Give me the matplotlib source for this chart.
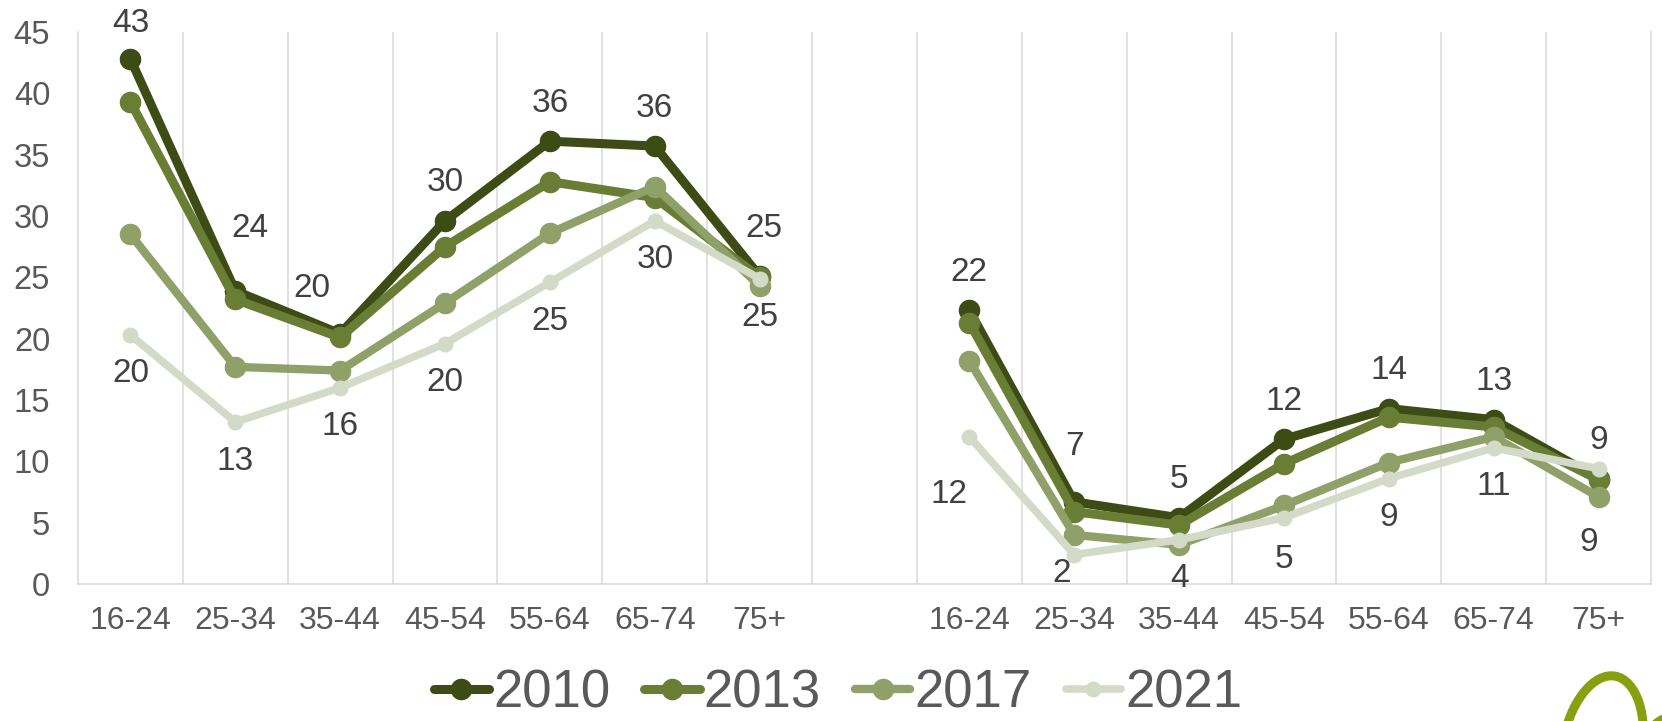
import numpy as np
import matplotlib.pyplot as plt
from matplotlib.patches import Arc

plt.rcParams['font.family'] = ['Liberation Sans', 'DejaVu Sans']

ages = ['16-24', '25-34', '35-44', '45-54', '55-64', '65-74', '75+']
years = ['2010', '2013', '2017', '2021']

# first group of age bands
left_2010 = [42.8, 23.9, 20.4, 29.6, 36.1, 35.7, 25.1]
left_2013 = [39.3, 23.2, 20.1, 27.5, 32.8, 31.5, 25.0]
left_2017 = [28.5, 17.7, 17.4, 22.9, 28.6, 32.4, 24.3]
left_2021 = [20.3, 13.2, 16.0, 19.6, 24.6, 29.6, 24.9]

# second group of age bands
right_2010 = [22.3, 6.7, 5.4, 11.8, 14.3, 13.4, 8.6]
right_2013 = [21.3, 5.9, 4.8, 9.8, 13.6, 12.8, 8.5]
right_2017 = [18.2, 4.0, 3.2, 6.4, 9.9, 12.0, 7.1]
right_2021 = [12.0, 2.4, 3.6, 5.4, 8.6, 11.1, 9.4]

left = {'2010': left_2010, '2013': left_2013, '2017': left_2017, '2021': left_2021}
right = {'2010': right_2010, '2013': right_2013, '2017': right_2017, '2021': right_2021}

styles = {
    '2010': dict(color='#3d4b14', lw=6.5, ms=14.5),
    '2013': dict(color='#6a7d35', lw=6.5, ms=14.5),
    '2017': dict(color='#8fa068', lw=6.0, ms=14.5),
    '2021': dict(color='#d4dac8', lw=5.5, ms=10.5),
}

PX = 0.72  # points per pixel at 100 dpi
GRID = '#d9d9d9'

fig = plt.figure(figsize=(16.62, 7.21), dpi=100)
ax = fig.add_axes([78 / 1662, 1 - 584 / 721, (1651 - 78) / 1662, (584 - 32) / 721])

x_left = np.arange(7)
x_right = np.arange(8, 15)

for year in years:
    st = styles[year]
    kw = dict(color=st['color'], lw=st['lw'], marker='o', ms=st['ms'],
              solid_capstyle='round', solid_joinstyle='round', clip_on=False)
    ax.plot(x_left, left[year], label=year, **kw)
    ax.plot(x_right, right[year], **kw)

# value labels: 2010 above its points, 2021 below
# offsets in pixels (dx, dy), dy pointing down the screen
label_shift = {
    ('2010', 0): (0, -35), ('2010', 1): (15, -62), ('2010', 2): (-28, -45),
    ('2010', 6): (4, -48), ('2010', 9): (0, -55),
    ('2021', 8): (-20, 58), ('2021', 9): (-13, 19), ('2021', 11): (0, 42),
    ('2021', 14): (-10, 74),
}
xs = list(x_left) + list(x_right)
for year, default in (('2010', (0, -38)), ('2021', (0, 39))):
    vals = left[year] + right[year]
    for x, v in zip(xs, vals):
        dx, dy = label_shift.get((year, x), default)
        ax.annotate(str(int(np.floor(v + 0.5))), (x, v), xytext=(dx * PX, -dy * PX),
                    textcoords='offset points', ha='center', va='center',
                    fontsize=24, color='#404040', annotation_clip=False)

ax.set_xlim(-0.5, 14.5)
ax.set_ylim(0, 45)
ax.set_yticks(np.arange(0, 46, 5))
ax.set_xticks(np.arange(15))
ax.set_xticklabels(ages + [''] + ages)
ax.set_xticks(np.arange(0.5, 14, 1), minor=True)
ax.grid(which='minor', axis='x', color=GRID, lw=1.1)
ax.tick_params(which='both', length=0)
ax.tick_params(axis='x', pad=16, labelsize=23, labelcolor='#595959')
ax.tick_params(axis='y', pad=20, labelsize=23.5, labelcolor='#595959')
ax.spines['top'].set_visible(False)
for s in ('left', 'right', 'bottom'):
    ax.spines[s].set_color(GRID)
    ax.spines[s].set_linewidth(1.1)
ax.set_axisbelow(True)

leg = fig.legend(loc='center', bbox_to_anchor=(838 / 1662, 1 - 693 / 721), ncol=4,
                 frameon=False, fontsize=38, handlelength=1.05, handletextpad=0.08,
                 columnspacing=0.64, borderpad=0, labelcolor='#595959')

# corner emblem
em = fig.add_axes([1540 / 1662, 0, 122 / 1662, 70 / 721])
em.set_xlim(1540, 1662)
em.set_ylim(721, 651)
em.axis('off')
em.add_patch(Arc((1602, 750), 80, 150, angle=10, theta1=180, theta2=360,
                 color='#86a10f', lw=6.5))
em.add_patch(Arc((1680, 745), 70, 60, angle=0, theta1=200, theta2=260,
                 color='#86a10f', lw=6))

fig.savefig('out.png', dpi=100)
